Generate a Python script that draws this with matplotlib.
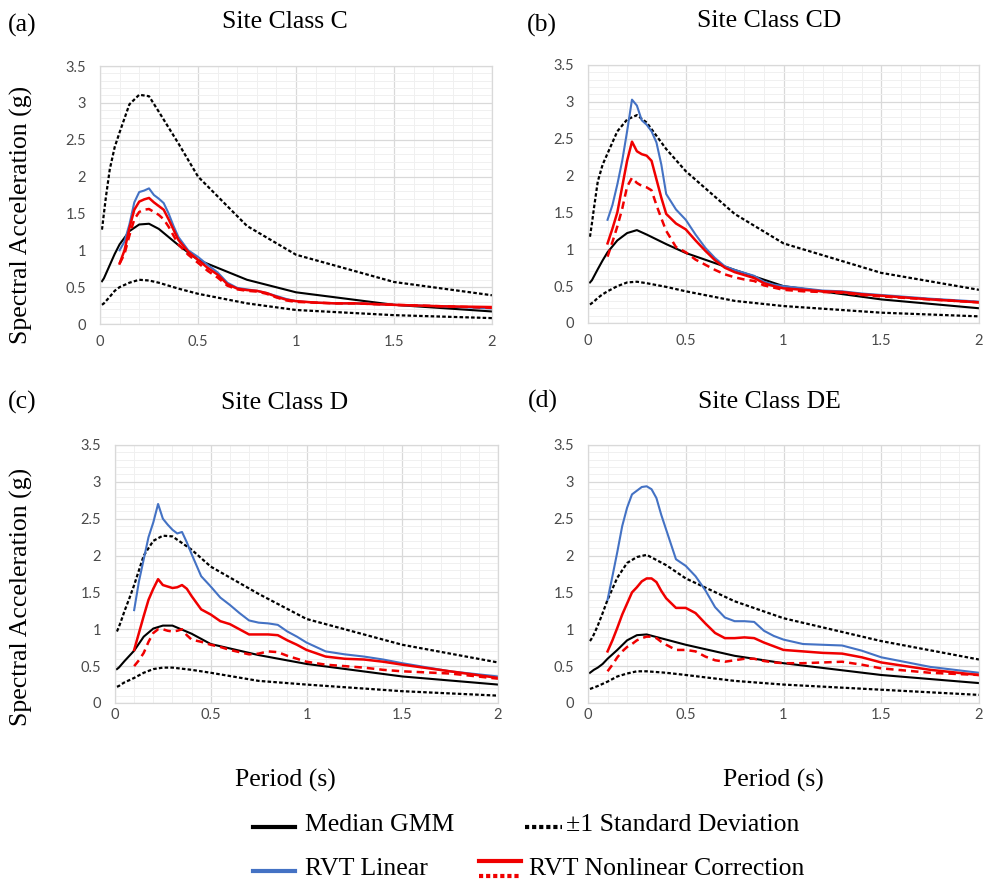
import matplotlib
matplotlib.use('Agg')
import matplotlib.pyplot as plt
from matplotlib.lines import Line2D
from matplotlib.ticker import MultipleLocator, FuncFormatter

plt.rcParams['font.family'] = 'Lato'

W, H = 988, 882  # figure size in pixels

# periods (s) of the GMM spectra and of the RVT spectra
GMM_T = [0.01, 0.02, 0.03, 0.05, 0.075, 0.1, 0.15, 0.2, 0.25, 0.3, 0.4, 0.5, 0.75, 1.0, 1.5, 2.0]
RVT_T = [0.1, 0.125, 0.15, 0.175, 0.2, 0.225, 0.25, 0.275, 0.3, 0.325, 0.35, 0.375, 0.4,
         0.45, 0.5, 0.55, 0.6, 0.65, 0.7, 0.75, 0.8, 0.85, 0.9, 0.95, 1.0,
         1.1, 1.2, 1.3, 1.4, 1.5, 1.75, 2.0]

site_classes = ['C', 'CD', 'D', 'DE']
panel_tags = ['(a)', '(b)', '(c)', '(d)']

# Site Class C
median_C = [0.58, 0.62, 0.68, 0.8, 0.95, 1.08, 1.26, 1.35, 1.36, 1.29, 1.07, 0.87, 0.6, 0.43, 0.26, 0.17]
upper_C = [1.28, 1.5, 1.72, 2.1, 2.4, 2.6, 2.98, 3.11, 3.09, 2.88, 2.45, 2.0, 1.33, 0.94, 0.57, 0.39]
lower_C = [0.26, 0.28, 0.31, 0.37, 0.45, 0.5, 0.56, 0.6, 0.59, 0.56, 0.48, 0.41, 0.28, 0.19, 0.12, 0.08]
rvt_lin_C = [1.0, 1.12, 1.35, 1.65, 1.79, 1.81, 1.84, 1.75, 1.7, 1.64, 1.5, 1.33, 1.18,
             1.0, 0.91, 0.8, 0.7, 0.56, 0.49, 0.47, 0.45, 0.42, 0.38, 0.34, 0.31,
             0.29, 0.28, 0.28, 0.27, 0.26, 0.24, 0.21]
rvt_nl_C = [0.82, 1.0, 1.3, 1.55, 1.66, 1.69, 1.71, 1.65, 1.6, 1.55, 1.42, 1.28, 1.14,
            0.98, 0.87, 0.76, 0.67, 0.54, 0.48, 0.46, 0.45, 0.42, 0.37, 0.33, 0.31,
            0.29, 0.28, 0.28, 0.27, 0.26, 0.24, 0.23]
rvt_nl2_C = [0.82, 0.95, 1.2, 1.42, 1.52, 1.55, 1.56, 1.52, 1.48, 1.42, 1.32, 1.2, 1.08,
             0.94, 0.83, 0.72, 0.63, 0.52, 0.47, 0.45, 0.44, 0.41, 0.36, 0.32, 0.3,
             0.29, 0.28, 0.28, 0.27, 0.26, 0.24, 0.22]

# Site Class CD
median_CD = [0.55, 0.58, 0.63, 0.73, 0.85, 0.96, 1.12, 1.22, 1.26, 1.2, 1.07, 0.95, 0.72, 0.5, 0.32, 0.2]
upper_CD = [1.17, 1.35, 1.55, 1.92, 2.15, 2.3, 2.6, 2.76, 2.82, 2.72, 2.36, 2.06, 1.48, 1.08, 0.68, 0.45]
lower_CD = [0.25, 0.27, 0.29, 0.34, 0.39, 0.43, 0.5, 0.55, 0.56, 0.54, 0.49, 0.43, 0.3, 0.23, 0.14, 0.09]
rvt_lin_CD = [1.4, 1.6, 1.88, 2.2, 2.6, 3.03, 2.95, 2.75, 2.69, 2.6, 2.45, 2.15, 1.75,
              1.54, 1.4, 1.2, 1.02, 0.88, 0.77, 0.72, 0.68, 0.64, 0.56, 0.52, 0.5,
              0.47, 0.44, 0.43, 0.4, 0.38, 0.33, 0.29]
rvt_nl_CD = [1.08, 1.28, 1.5, 1.85, 2.2, 2.46, 2.33, 2.29, 2.27, 2.2, 1.95, 1.7, 1.48,
             1.35, 1.27, 1.12, 0.98, 0.85, 0.75, 0.69, 0.65, 0.61, 0.54, 0.5, 0.47,
             0.45, 0.43, 0.42, 0.39, 0.37, 0.32, 0.28]
rvt_nl2_CD = [0.9, 1.1, 1.31, 1.55, 1.85, 1.97, 1.9, 1.86, 1.84, 1.8, 1.6, 1.42, 1.25,
              1.03, 0.96, 0.86, 0.79, 0.72, 0.66, 0.62, 0.59, 0.57, 0.51, 0.48, 0.45,
              0.43, 0.42, 0.41, 0.38, 0.36, 0.32, 0.28]

# Site Class D
median_D = [0.46, 0.48, 0.51, 0.57, 0.64, 0.71, 0.9, 1.01, 1.05, 1.05, 0.94, 0.8, 0.65, 0.53, 0.36, 0.25]
upper_D = [0.97, 1.03, 1.1, 1.25, 1.42, 1.6, 2.0, 2.2, 2.27, 2.26, 2.08, 1.85, 1.48, 1.14, 0.79, 0.55]
lower_D = [0.22, 0.23, 0.25, 0.28, 0.31, 0.34, 0.41, 0.46, 0.48, 0.48, 0.45, 0.41, 0.3, 0.25, 0.16, 0.1]
rvt_lin_D = [1.26, 1.65, 1.95, 2.25, 2.45, 2.7, 2.5, 2.42, 2.35, 2.3, 2.32, 2.18, 2.02,
             1.72, 1.58, 1.43, 1.33, 1.22, 1.12, 1.09, 1.08, 1.06, 0.97, 0.9, 0.82,
             0.7, 0.66, 0.63, 0.59, 0.54, 0.43, 0.36]
rvt_nl_D = [0.72, 0.95, 1.18, 1.4, 1.55, 1.68, 1.6, 1.58, 1.56, 1.57, 1.6, 1.55, 1.45,
            1.27, 1.2, 1.11, 1.07, 1.0, 0.93, 0.93, 0.93, 0.92, 0.85, 0.79, 0.72,
            0.63, 0.6, 0.59, 0.56, 0.52, 0.43, 0.34]
rvt_nl2_D = [0.5, 0.58, 0.68, 0.83, 0.95, 1.0, 1.0, 0.98, 0.97, 0.98, 1.0, 0.92, 0.86,
             0.83, 0.79, 0.76, 0.72, 0.69, 0.66, 0.67, 0.7, 0.69, 0.64, 0.6, 0.56,
             0.52, 0.5, 0.48, 0.45, 0.43, 0.4, 0.33]

# Site Class DE
median_DE = [0.41, 0.43, 0.45, 0.48, 0.53, 0.6, 0.72, 0.85, 0.92, 0.93, 0.86, 0.79, 0.64, 0.54, 0.38, 0.27]
upper_DE = [0.84, 0.88, 0.93, 1.05, 1.22, 1.4, 1.7, 1.9, 1.98, 2.01, 1.87, 1.69, 1.38, 1.15, 0.84, 0.59]
lower_DE = [0.19, 0.2, 0.21, 0.23, 0.26, 0.29, 0.36, 0.4, 0.43, 0.43, 0.41, 0.38, 0.3, 0.25, 0.18, 0.11]
rvt_lin_DE = [1.4, 1.72, 2.05, 2.4, 2.65, 2.83, 2.88, 2.93, 2.94, 2.9, 2.78, 2.55, 2.35,
              1.95, 1.86, 1.72, 1.53, 1.3, 1.16, 1.11, 1.11, 1.1, 0.98, 0.91, 0.86,
              0.8, 0.79, 0.78, 0.71, 0.62, 0.49, 0.41]
rvt_nl_DE = [0.7, 0.85, 1.02, 1.2, 1.35, 1.5, 1.57, 1.65, 1.69, 1.69, 1.64, 1.52, 1.42,
             1.29, 1.29, 1.22, 1.08, 0.95, 0.88, 0.88, 0.89, 0.88, 0.82, 0.77, 0.72,
             0.7, 0.68, 0.67, 0.62, 0.55, 0.45, 0.38]
rvt_nl2_DE = [0.43, 0.52, 0.62, 0.7, 0.76, 0.8, 0.85, 0.88, 0.9, 0.9, 0.88, 0.83, 0.79,
              0.72, 0.72, 0.7, 0.63, 0.58, 0.56, 0.58, 0.6, 0.6, 0.57, 0.55, 0.54,
              0.54, 0.55, 0.56, 0.52, 0.47, 0.41, 0.38]

panels = [
    (median_C, upper_C, lower_C, rvt_lin_C, rvt_nl_C, rvt_nl2_C),
    (median_CD, upper_CD, lower_CD, rvt_lin_CD, rvt_nl_CD, rvt_nl2_CD),
    (median_D, upper_D, lower_D, rvt_lin_D, rvt_nl_D, rvt_nl2_D),
    (median_DE, upper_DE, lower_DE, rvt_lin_DE, rvt_nl_DE, rvt_nl2_DE),
]

# axes boxes in pixels: left, top, right, bottom
boxes = [(100, 66, 492, 324), (588, 65, 979, 323), (115, 445, 498, 703), (588, 445, 979, 703)]
title_pos = [(285, 22), (769, 21), (285, 403), (769, 402)]
tag_pos = [(22, 25), (542, 25), (22, 402), (543, 401)]
xpad = [8.0, 8.0, 3.5, 3.5]

BLUE = '#4472c4'
RED = '#f00000'
SERIF = 'Liberation Serif'
DOTS = (0, (1.6, 1.0))


def fx(px):
    return px / W


def fy(py):
    return 1 - py / H


fig = plt.figure(figsize=(W / 100, H / 100), dpi=100)

for i, (med, up, lo, lin, nl, nl2) in enumerate(panels):
    l, t, r, b = boxes[i]
    ax = fig.add_axes([fx(l), fy(b), (r - l) / W, (b - t) / H])
    ax.plot(GMM_T, up, color='black', lw=1.6, ls=DOTS)
    ax.plot(GMM_T, lo, color='black', lw=1.6, ls=DOTS)
    ax.plot(GMM_T, med, color='black', lw=1.5)
    ax.plot(RVT_T, lin, color=BLUE, lw=1.5)
    ax.plot(RVT_T, nl, color=RED, lw=1.8)
    ax.plot(RVT_T, nl2, color=RED, lw=1.8, ls=(0, (3, 2)))

    ax.set_xlim(0, 2)
    ax.set_ylim(0, 3.5)
    ax.xaxis.set_major_locator(MultipleLocator(0.5))
    ax.yaxis.set_major_locator(MultipleLocator(0.5))
    ax.xaxis.set_minor_locator(MultipleLocator(0.1))
    ax.yaxis.set_minor_locator(MultipleLocator(0.1))
    fmt = FuncFormatter(lambda v, p: f'{v:g}')
    ax.xaxis.set_major_formatter(fmt)
    ax.yaxis.set_major_formatter(fmt)
    ax.grid(which='major', color='#d9d9d9', lw=0.9)
    ax.grid(which='minor', color='#f0f0f0', lw=0.7)
    ax.set_axisbelow(True)
    for sp in ax.spines.values():
        sp.set_color('#d9d9d9')
        sp.set_linewidth(0.9)
    ax.tick_params(which='both', length=0, labelsize=10.5, labelcolor='#4a4a4a')
    ax.tick_params(axis='y', pad=10)
    ax.tick_params(axis='x', pad=xpad[i])

    fig.text(fx(title_pos[i][0]), fy(title_pos[i][1]), f'Site Class {site_classes[i]}',
             family=SERIF, fontsize=18.5, ha='center', va='center')
    fig.text(fx(tag_pos[i][0]), fy(tag_pos[i][1]), panel_tags[i],
             family=SERIF, fontsize=18.5, ha='center', va='center')

# shared axis labels
for yc in (215, 597):
    fig.text(fx(21), fy(yc), 'Spectral Acceleration (g)', family=SERIF, fontsize=18.5,
             rotation=90, ha='center', va='center')
for xc in (285, 773):
    fig.text(fx(xc), fy(780), 'Period (s)', family=SERIF, fontsize=18.5, ha='center', va='center')


# legend drawn by hand, Excel style
def legend_line(x0, x1, y, **kw):
    fig.add_artist(Line2D([fx(x0), fx(x1)], [fy(y), fy(y)], transform=fig.transFigure, **kw))


legend_line(253, 295, 827, color='black', lw=3)
fig.text(fx(305), fy(825), 'Median GMM', family=SERIF, fontsize=18.5, va='center')
legend_line(525, 562, 827, color='black', lw=3, ls=(0, (1, 0.7)))
fig.text(fx(566), fy(825), '±1 Standard Deviation', family=SERIF, fontsize=18.5, va='center')
legend_line(253, 295, 871, color=BLUE, lw=3)
fig.text(fx(305), fy(869), 'RVT Linear', family=SERIF, fontsize=18.5, va='center')
legend_line(479, 521, 861, color=RED, lw=3)
legend_line(479, 521, 876, color=RED, lw=3, ls=(0, (1, 0.7)))
fig.text(fx(529), fy(869), 'RVT Nonlinear Correction', family=SERIF, fontsize=18.5, va='center')

fig.savefig('out.png', dpi=100, facecolor='white')
